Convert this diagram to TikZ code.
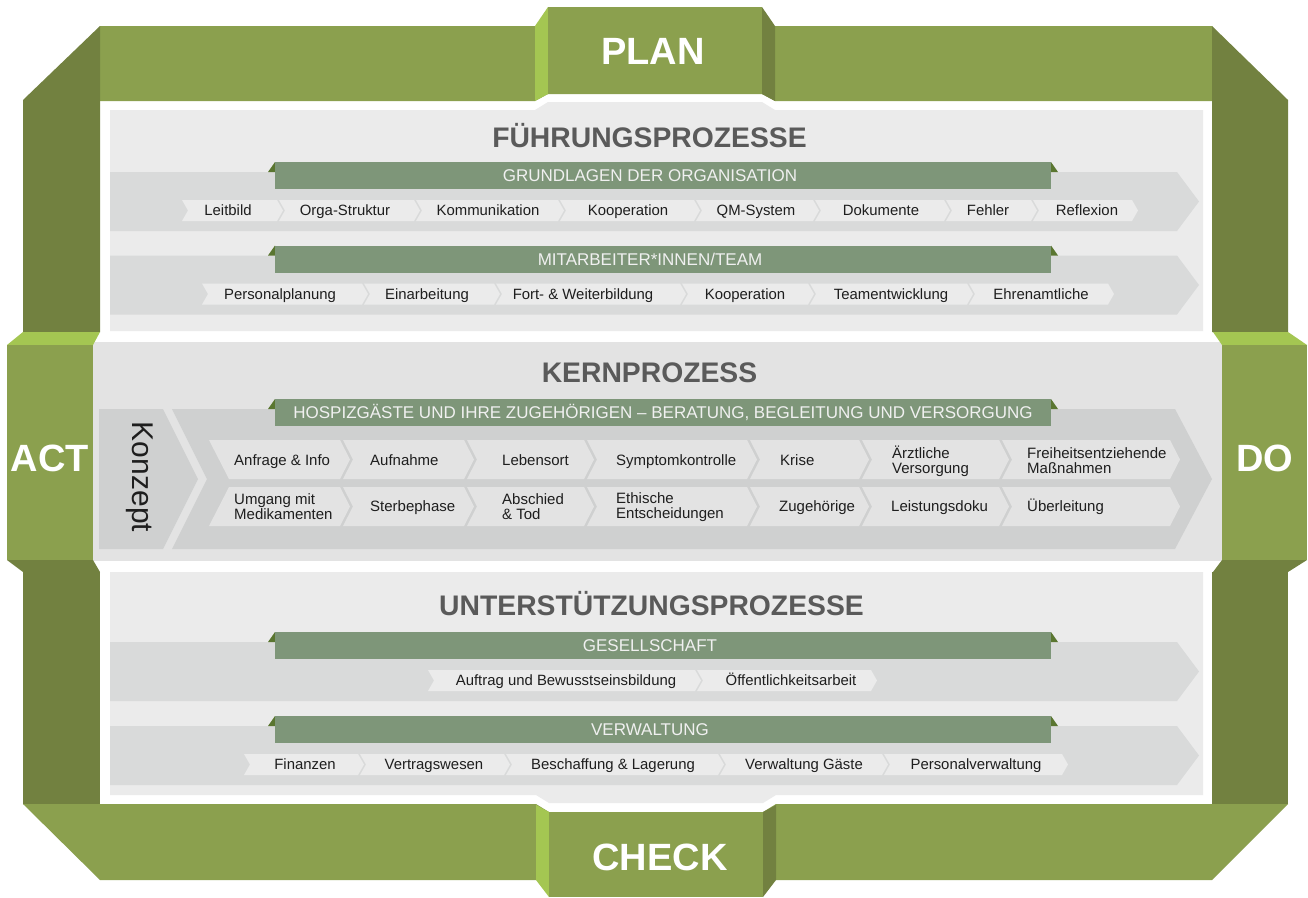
\documentclass[tikz,border=0pt]{standalone}
\usepackage{fontspec}
\setmainfont{Liberation Sans}
\usetikzlibrary{positioning,calc}

\definecolor{planolive}{HTML}{8BA04E}
\definecolor{sidedark}{HTML}{728140}
\definecolor{facelight}{HTML}{A4C652}
\definecolor{headgreen}{HTML}{7E9679}
\definecolor{folddark}{HTML}{5A7630}
\definecolor{panelgrey}{HTML}{EBEBEB}
\definecolor{kerngrey}{HTML}{E3E3E3}
\definecolor{bandgrey}{HTML}{D9DADA}
\definecolor{kernband}{HTML}{CFD0D0}
\definecolor{titlegrey}{HTML}{5A5A5A}
\definecolor{itemtext}{HTML}{1E1E1E}

% chevron: style, left x, right x, top y, bottom y, depth
\newcommand{\chevitem}[6]{%
  \fill[#1] (#2,#4) -- (#3,#4) -- ({#3+#6},{(#4+#5)/2}) -- (#3,#5)
    -- (#2,#5) -- ({#2+#6},{(#4+#5)/2}) -- cycle;}
% process band with header bar, top y of band
\newcommand{\procband}[1]{%
  \fill[band] (110,#1) -- (1177,#1) -- (1199,{#1+29.5}) -- (1177,{#1+59})
    -- (110,{#1+59}) -- cycle;
  \fill[fold] (268,#1) -- (275,{#1-10}) -- (275,#1) -- cycle;
  \fill[fold] (1051,{#1-10}) -- (1058,#1) -- (1051,#1) -- cycle;
  \fill[headbar] (275,{#1-10}) rectangle (1051,{#1+17});}

\begin{document}
\begin{tikzpicture}[
        x=1pt, y=-1pt,
        frame/.style={fill=planolive},
        side/.style={fill=sidedark},
        face/.style={fill=facelight},
        fold/.style={fill=folddark},
        headbar/.style={fill=headgreen},
        band/.style={fill=bandgrey},
        itembox/.style={fill=panelgrey},
        kernbox/.style={fill=kerngrey},
        tablabel/.style={text=white, inner sep=0pt, text height=27.2pt, text depth=0pt,
            font=\fontsize{38}{38}\selectfont\bfseries},
        title/.style={text=titlegrey, inner sep=0pt, text height=20.2pt, text depth=0pt,
            font=\fontsize{28.3}{28.3}\selectfont\bfseries},
        headlabel/.style={text=white!94!black, inner sep=0pt, text height=12.2pt,
            text depth=0pt, font=\fontsize{17}{17}\selectfont},
        itemlabel/.style={text=itemtext, inner sep=0pt, text height=10.7pt,
            text depth=0pt, font=\fontsize{14.9}{14.9}\selectfont},
        kernlabel/.style={text=itemtext, inner sep=0pt, anchor=west, align=left,
            font=\fontsize{15}{15}\selectfont},
        kernone/.style={kernlabel, text height=10.7pt, text depth=0pt},
    ]
    \useasboundingbox[fill=white] (0,0) rectangle (1308,897);

    % frame
    \fill[frame] (100,26) -- (1212,26) -- (1212,101) -- (775,101) -- (762,94)
        -- (548,94) -- (535,101) -- (100,101) -- cycle;
    \fill[side] (23,100) -- (100,26) -- (100,332) -- (23,332) -- cycle;
    \fill[side] (1212,26) -- (1288,100) -- (1288,332) -- (1212,332) -- cycle;
    \fill[side] (23,572) rectangle (100,804);
    \fill[side] (1212,572) rectangle (1288,804);
    \fill[frame] (23,804) -- (536,804) -- (549,812) -- (763,812) -- (776,804)
        -- (1288,804) -- (1212,880) -- (100,880) -- cycle;

    % panels
    \fill[fill=panelgrey] (110,110) -- (535,110) -- (548,102) -- (762,102) -- (775,110)
        -- (1203,110) -- (1203,331) -- (110,331) -- cycle;
    \fill[fill=kerngrey] (93,342) rectangle (1222,561);
    \fill[fill=panelgrey] (110,572) -- (1203,572) -- (1203,795) -- (776,795) -- (763,803)
        -- (549,803) -- (536,795) -- (110,795) -- cycle;

    % tabs
    \fill[face] (535,26) -- (548,7) -- (548,94) -- (535,101) -- cycle;
    \fill[side] (762,7) -- (775,26) -- (775,101) -- (762,94) -- cycle;
    \fill[frame] (548,7) rectangle (762,94);
    \fill[face] (536,805) -- (549,812) -- (549,897) -- (536,880) -- cycle;
    \fill[side] (763,812) -- (776,805) -- (776,880) -- (763,897) -- cycle;
    \fill[frame] (549,812) rectangle (763,897);
    \fill[face] (23,332) -- (100,332) -- (93,345) -- (7,345) -- cycle;
    \fill[side] (7,560) -- (93,560) -- (100,572) -- (23,572) -- cycle;
    \fill[frame] (7,345) rectangle (93,560);
    \fill[face] (1213,332) -- (1288,332) -- (1307,345) -- (1222,345) -- cycle;
    \fill[side] (1222,560) -- (1307,560) -- (1288,572) -- (1213,572) -- cycle;
    \fill[frame] (1222,345) rectangle (1307,560);

    \node[tablabel] (plan) at (653,51) {PLAN};
    \node[tablabel] (check) at (660,857) {CHECK};
    \node[tablabel] (act) at (50,457.5) {ACT};
    \node[tablabel] (do) at (1264.5,457.5) {DO};

    % fuehrungsprozesse
    \node[title] (fuehrung) at (649.5,137) {FÜHRUNGSPROZESSE};
    \procband{172}
    \node[headlabel] (grundlagen) at (650,175.5) {GRUNDLAGEN DER ORGANISATION};
    \chevitem{itembox}{182}{277}{200}{221}{6}
    \chevitem{itembox}{279}{414}{200}{221}{6}
    \chevitem{itembox}{416}{558}{200}{221}{6}
    \chevitem{itembox}{560}{694}{200}{221}{6}
    \chevitem{itembox}{696}{813}{200}{221}{6}
    \chevitem{itembox}{815}{944}{200}{221}{6}
    \chevitem{itembox}{946}{1031}{200}{221}{6}
    \chevitem{itembox}{1033}{1132}{200}{221}{6}
    \node[itemlabel] (leitbild) at (228,210.5) {Leitbild};
    \node[itemlabel] (orga) at (345,210.5) {Orga-Struktur};
    \node[itemlabel] (kommunikation) at (488,210.5) {Kommunikation};
    \node[itemlabel] (kooperation1) at (628,210.5) {Kooperation};
    \node[itemlabel] (qm) at (756,210.5) {QM-System};
    \node[itemlabel] (dokumente) at (881,210.5) {Dokumente};
    \node[itemlabel] (fehler) at (988,210.5) {Fehler};
    \node[itemlabel] (reflexion) at (1087,210.5) {Reflexion};

    \procband{255.5}
    \node[headlabel] (team) at (650,259) {MITARBEITER*INNEN/TEAM};
    \chevitem{itembox}{202}{362}{283.5}{304.5}{6}
    \chevitem{itembox}{364}{494}{283.5}{304.5}{6}
    \chevitem{itembox}{496}{680}{283.5}{304.5}{6}
    \chevitem{itembox}{682}{808}{283.5}{304.5}{6}
    \chevitem{itembox}{810}{967}{283.5}{304.5}{6}
    \chevitem{itembox}{969}{1108}{283.5}{304.5}{6}
    \node[itemlabel] (planung) at (280,294) {Personalplanung};
    \node[itemlabel] (einarbeitung) at (427,294) {Einarbeitung};
    \node[itemlabel] (fortbildung) at (583,294) {Fort- \& Weiterbildung};
    \node[itemlabel] (kooperation2) at (745,294) {Kooperation};
    \node[itemlabel] (teament) at (891,294) {Teamentwicklung};
    \node[itemlabel] (ehrenamt) at (1041,294) {Ehrenamtliche};

    % kernprozess
    \node[title] (kern) at (649.5,372.5) {KERNPROZESS};
    \fill[fill=kernband] (99,409) -- (163,409) -- (198,479) -- (163,549) -- (99,549) -- cycle;
    \fill[fill=kernband] (172,409) -- (1175,409) -- (1212,479) -- (1175,549) -- (172,549)
        -- (207,479) -- cycle;
    \fill[fold] (268,409) -- (275,399) -- (275,409) -- cycle;
    \fill[fold] (1051,399) -- (1058,409) -- (1051,409) -- cycle;
    \fill[headbar] (275,399) rectangle (1051,426);
    \node[headlabel] (hospiz) at (663,412.5)
        {HOSPIZGÄSTE UND IHRE ZUGEHÖRIGEN – BERATUNG, BEGLEITUNG UND VERSORGUNG};
    \node[rotate=-90, inner sep=0pt, text=itemtext, font=\fontsize{30}{30}\selectfont]
        (konzept) at (140,477) {Konzept};

    \fill[kernbox] (209,440) -- (340,440) -- (350,459.5) -- (340,479) -- (229,479) -- cycle;
    \chevitem{kernbox}{343}{464}{440}{479}{10}
    \chevitem{kernbox}{467}{584}{440}{479}{10}
    \chevitem{kernbox}{587}{747}{440}{479}{10}
    \chevitem{kernbox}{750}{859}{440}{479}{10}
    \chevitem{kernbox}{862}{999}{440}{479}{10}
    \chevitem{kernbox}{1002}{1170}{440}{479}{10}
    \fill[kernbox] (229,487) -- (340,487) -- (350,506.5) -- (340,526) -- (209,526) -- cycle;
    \chevitem{kernbox}{343}{464}{487}{526}{10}
    \chevitem{kernbox}{467}{584}{487}{526}{10}
    \chevitem{kernbox}{587}{747}{487}{526}{10}
    \chevitem{kernbox}{750}{859}{487}{526}{10}
    \chevitem{kernbox}{862}{999}{487}{526}{10}
    \chevitem{kernbox}{1002}{1170}{487}{526}{10}

    \node[kernone] (anfrage) at (234,460.5) {Anfrage \& Info};
    \node[kernone] (aufnahme) at (370,460.5) {Aufnahme};
    \node[kernone] (lebensort) at (502,460.5) {Lebensort};
    \node[kernone] (symptom) at (616,460.5) {Symptomkontrolle};
    \node[kernone] (krise) at (780,460.5) {Krise};
    \node[kernlabel] (aerztlich) at (892,461) {Ärztliche\\Versorgung};
    \node[kernlabel] (freiheit) at (1027,461) {Freiheitsentziehende\\Maßnahmen};
    \node[kernlabel] (medikamente) at (234,507) {Umgang mit\\Medikamenten};
    \node[kernone] (sterbe) at (370,506.5) {Sterbephase};
    \node[kernlabel] (abschied) at (502,507) {Abschied\\\& Tod};
    \node[kernlabel] (ethik) at (616,507) {Ethische\\Entscheidungen};
    \node[kernone] (zugehoerige) at (779,506.5) {Zugehörige};
    \node[kernone] (leistung) at (891,506.5) {Leistungsdoku};
    \node[kernone] (ueberleitung) at (1027,506.5) {Überleitung};

    % unterstuetzungsprozesse
    \node[title] (unterst) at (651.5,605.5) {UNTERSTÜTZUNGSPROZESSE};
    \procband{642}
    \node[headlabel] (gesellschaft) at (650,645.5) {GESELLSCHAFT};
    \chevitem{itembox}{428}{695}{670}{691}{6}
    \chevitem{itembox}{697}{871}{670}{691}{6}
    \node[itemlabel] (auftrag) at (566,680.5) {Auftrag und Bewusstseinsbildung};
    \node[itemlabel] (oeffentlich) at (791,680.5) {Öffentlichkeitsarbeit};

    \procband{726}
    \node[headlabel] (verwaltung) at (650,729.5) {VERWALTUNG};
    \chevitem{itembox}{244}{358}{754}{775}{6}
    \chevitem{itembox}{360}{504}{754}{775}{6}
    \chevitem{itembox}{506}{718}{754}{775}{6}
    \chevitem{itembox}{720}{882}{754}{775}{6}
    \chevitem{itembox}{884}{1062}{754}{775}{6}
    \node[itemlabel] (finanzen) at (305,764.5) {Finanzen};
    \node[itemlabel] (vertrag) at (434,764.5) {Vertragswesen};
    \node[itemlabel] (beschaffung) at (613,764.5) {Beschaffung \& Lagerung};
    \node[itemlabel] (gaeste) at (804,764.5) {Verwaltung Gäste};
    \node[itemlabel] (personal) at (976,764.5) {Personalverwaltung};
\end{tikzpicture}
\end{document}
